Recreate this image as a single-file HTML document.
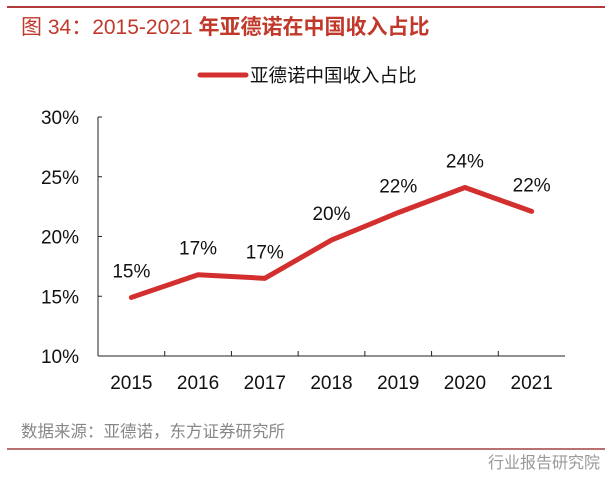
<!DOCTYPE html>
<html><head><meta charset="utf-8"><style>
body{margin:0;background:#fff;width:613px;height:478px;overflow:hidden;font-family:"Liberation Sans","Noto Sans CJK SC",sans-serif;}
</style></head><body>
<svg width="613" height="478" xmlns="http://www.w3.org/2000/svg" id="chart" font-family="Liberation Sans, Noto Sans CJK SC, sans-serif">
<line x1="7" y1="7" x2="605" y2="7" stroke="#b03a3a" stroke-width="2"/>
<text x="21" y="34" font-size="21" fill="#c0392b">图 34：2015-2021 <tspan font-weight="bold">年亚德诺在中国收入占比</tspan></text>
<line x1="200" y1="75" x2="246" y2="75" stroke="#d32f2f" stroke-width="5" stroke-linecap="round"/>
<text x="250" y="82" font-size="18.5" fill="#111">亚德诺中国收入占比</text>
<g id="axes"></g>
<text x="21" y="437" font-size="16.5" fill="#888">数据来源：亚德诺，东方证券研究所</text>
<line x1="7" y1="449" x2="605" y2="449" stroke="#a04040" stroke-width="1.5"/>
<text x="488" y="468" font-size="16" fill="#999">行业报告研究院</text>
</svg>
<script>
const categories=["2015","2016","2017","2018","2019","2020","2021"];
const values=[14.9,16.8,16.5,19.7,22.0,24.1,22.1];
const valueLabels=["15%","17%","17%","20%","22%","24%","22%"];
const yTicks=[10,15,20,25,30];
const NS="http://www.w3.org/2000/svg";
const g=document.getElementById('axes');
const X0=98,X1=565,Y0=356,Y1=117,vmin=10,vmax=30;
const bw=(X1-X0)/categories.length;
const x=i=>X0+bw*(i+0.5);
const y=v=>Y0-(v-vmin)/(vmax-vmin)*(Y0-Y1);
function mk(t,a){const e=document.createElementNS(NS,t);for(const k in a)e.setAttribute(k,a[k]);g.appendChild(e);return e;}
let e=mk('line',{x1:X0,y1:Y1,x2:X0,y2:Y0,stroke:'#222','stroke-width':1});


e=mk('line',{x1:X0,y1:Y0,x2:X1,y2:Y0,stroke:'#222','stroke-width':1});


yTicks.forEach(v=>{
 let t=mk('line',{x1:X0,y1:y(v),x2:X0+4,y2:y(v),stroke:'#222'});
 
 
 let l=mk('text',{x:79,y:y(v)+7,'font-size':19,'text-anchor':'end',fill:'#111'});l.textContent=v+'%';
 
 
});
for(let i=1;i<categories.length;i++){
 let t=mk('line',{x1:X0+bw*i,y1:Y0,x2:X0+bw*i,y2:Y0-5,stroke:'#222'});
 
 
}
categories.forEach((c,i)=>{
 let l=mk('text',{x:x(i),y:389,'font-size':19,'text-anchor':'middle',fill:'#111'});l.textContent=c;
 
 
});
let p=mk('polyline',{points:values.map((v,i)=>x(i)+','+y(v)).join(' '),fill:'none',stroke:'#d32f2f','stroke-width':5,'stroke-linejoin':'round','stroke-linecap':'round'});


values.forEach((v,i)=>{
 let l=mk('text',{x:x(i),y:y(v)-20,'font-size':19,'text-anchor':'middle',fill:'#111'});l.textContent=valueLabels[i];
 
 
});
</script>
</body></html>
